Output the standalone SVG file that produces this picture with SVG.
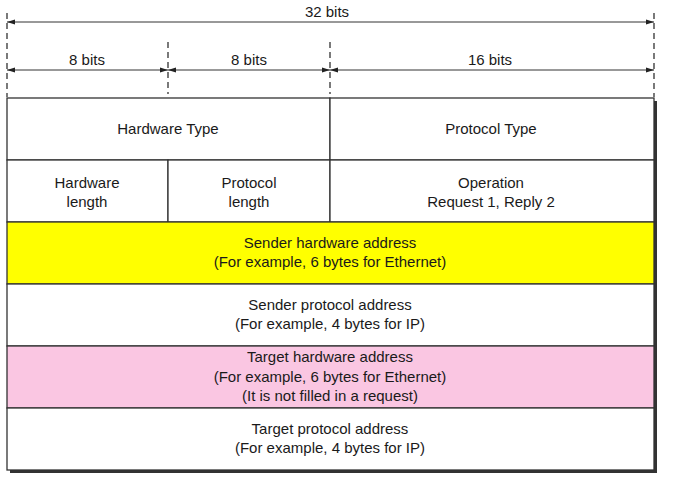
<svg xmlns="http://www.w3.org/2000/svg" width="693" height="484" viewBox="0 0 693 484">
<defs>
<marker id="ah" markerWidth="8" markerHeight="6" refX="8" refY="3" orient="auto-start-reverse" markerUnits="userSpaceOnUse">
<path d="M0,0.5 L8,3 L0,5.5 Z" fill="#222"/>
</marker>
<style>
text{font-family:"Liberation Sans",Arial,sans-serif;font-size:15px;fill:#1a1a1a;text-anchor:middle}
.dash{stroke:#222;stroke-width:1.2;stroke-dasharray:6,4;fill:none}
.dim{stroke:#333;stroke-width:1;fill:none}
.cell{stroke:#333;stroke-width:1.3}
</style>
</defs>
<rect width="693" height="484" fill="#fff"/>
<g id="connectors">
<line class="dash" x1="7" y1="13" x2="7" y2="97"/>
<line class="dash" x1="654" y1="13" x2="654" y2="97"/>
<line class="dash" x1="168" y1="42" x2="168" y2="94"/>
<line class="dash" x1="330" y1="42" x2="330" y2="94"/>
<line class="dim" x1="7" y1="22" x2="654" y2="22" marker-start="url(#ah)" marker-end="url(#ah)"/>
<line class="dim" x1="7" y1="70" x2="168" y2="70" marker-start="url(#ah)" marker-end="url(#ah)"/>
<line class="dim" x1="168" y1="70" x2="330" y2="70" marker-start="url(#ah)" marker-end="url(#ah)"/>
<line class="dim" x1="330" y1="70" x2="654" y2="70" marker-start="url(#ah)" marker-end="url(#ah)"/>
<text x="327" y="17">32 bits</text>
<text x="87" y="65">8 bits</text>
<text x="249" y="65">8 bits</text>
<text x="490" y="65">16 bits</text>
</g>
<rect x="10" y="101" width="647" height="372" fill="#333"/>
<g id="hw-type"><rect class="cell" x="7" y="98" width="323" height="62" fill="#fff"/><text x="168" y="134">Hardware Type</text></g>
<g id="proto-type"><rect class="cell" x="330" y="98" width="324" height="62" fill="#fff"/><text x="491" y="134">Protocol Type</text></g>
<g id="hw-len"><rect class="cell" x="7" y="160" width="161" height="62" fill="#fff"/><text x="87" y="188">Hardware</text><text x="87" y="207">length</text></g>
<g id="proto-len"><rect class="cell" x="168" y="160" width="162" height="62" fill="#fff"/><text x="249" y="188">Protocol</text><text x="249" y="207">length</text></g>
<g id="operation"><rect class="cell" x="330" y="160" width="324" height="62" fill="#fff"/><text x="491" y="188">Operation</text><text x="491" y="207">Request 1, Reply 2</text></g>
<g id="sender-hw"><rect class="cell" x="7" y="222" width="647" height="62" fill="#ffff00"/><text x="330" y="248">Sender hardware address</text><text x="330" y="267">(For example, 6 bytes for Ethernet)</text></g>
<g id="sender-proto"><rect class="cell" x="7" y="284" width="647" height="62" fill="#fff"/><text x="330" y="310">Sender protocol address</text><text x="330" y="329">(For example, 4 bytes for IP)</text></g>
<g id="target-hw"><rect class="cell" x="7" y="346" width="647" height="62" fill="#fac6e2"/><text x="330" y="362">Target hardware address</text><text x="330" y="382">(For example, 6 bytes for Ethernet)</text><text x="330" y="401">(It is not filled in a request)</text></g>
<g id="target-proto"><rect class="cell" x="7" y="408" width="647" height="62" fill="#fff"/><text x="330" y="434">Target protocol address</text><text x="330" y="453">(For example, 4 bytes for IP)</text></g>
</svg>
